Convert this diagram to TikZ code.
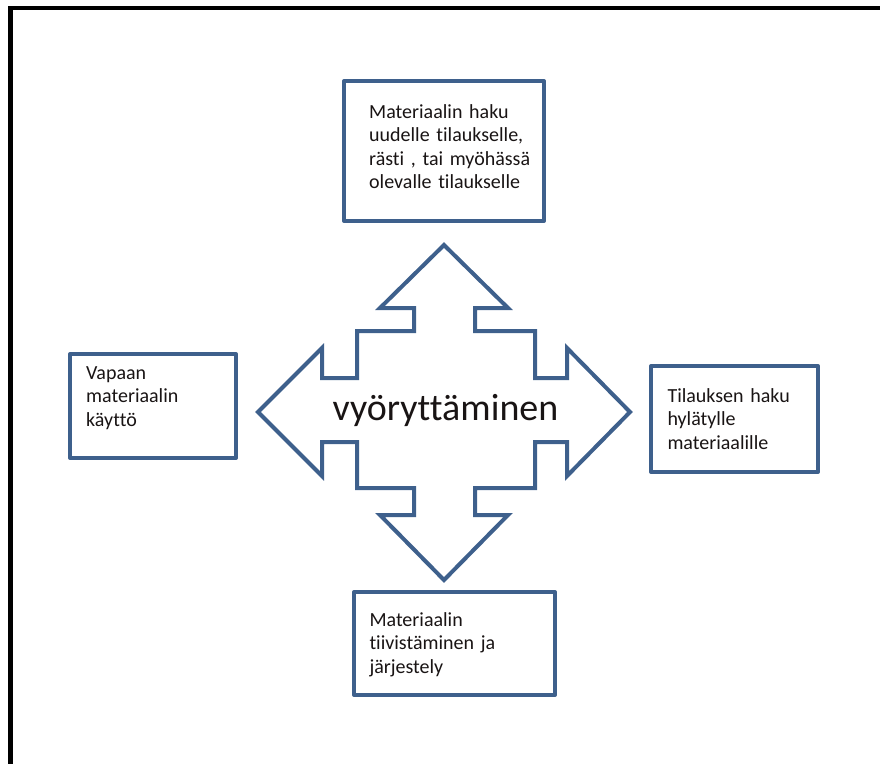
\documentclass[tikz,border=0pt]{standalone}
\usepackage{fontspec}
\setmainfont{Carlito}[Ligatures={NoCommon}]
\definecolor{edgeblue}{RGB}{62,96,140}
\definecolor{inktext}{RGB}{25,20,20}
\tikzset{
  infobox/.style={draw=edgeblue, line width=4pt, fill=white, inner sep=0pt, line join=round},
  infotext/.style={anchor=base west, inner sep=0pt, text width=#1, align=left,
    font=\fontsize{20}{23.5}\selectfont, text=inktext},
  quadarrow/.style={draw=edgeblue, line width=4pt, line join=miter, fill=white},
  hubtext/.style={anchor=base, inner sep=0pt, font=\fontsize{38}{40}\selectfont, text=inktext},
}
\begin{document}
\begin{tikzpicture}[x=1pt,y=-1pt]
\useasboundingbox (0,0) rectangle (880,764);

% page frame (open to the right and bottom)
\draw[line width=4.5pt] (880,8) -- (10.5,8) -- (10.5,764);

% four-way arrow with a central block
\draw[quadarrow]
  (444,245) -- (508,308) -- (475,308) -- (475,331) -- (535,331) -- (535,378)
  -- (567,378) -- (567,348) -- (630,412) -- (567,476) -- (567,442) -- (535,442)
  -- (535,488) -- (475,488) -- (475,515) -- (508,515) -- (444,580) -- (380,515)
  -- (414,515) -- (414,488) -- (357,488) -- (357,442) -- (322,442) -- (322,476)
  -- (258,412) -- (322,348) -- (322,378) -- (357,378) -- (357,331) -- (414,331)
  -- (414,308) -- (380,308) -- cycle;
\node[hubtext] (hub) at (445.5,420) {vyöryttäminen};

% surrounding boxes
\node[infobox, minimum width=200pt, minimum height=140pt] (topbox) at (444,151) {};
\node[infotext=175pt] (toptext) at (369,118.3)
  {Materiaalin haku\\uudelle tilaukselle,\\rästi , tai myöhässä\\olevalle tilaukselle};

\node[infobox, minimum width=166pt, minimum height=104pt] (leftbox) at (153,406) {};
\node[infotext=145pt] (lefttext) at (86,379.3)
  {Vapaan\\materiaalin\\käyttö};

\node[infobox, minimum width=167pt, minimum height=106pt] (rightbox) at (734.5,419) {};
\node[infotext=150pt] (righttext) at (667.3,402.3)
  {Tilauksen haku\\hylätylle\\materiaalille};

\node[infobox, minimum width=201pt, minimum height=103pt] (bottombox) at (454.5,643.5) {};
\node[infotext=180pt] (bottomtext) at (369.3,626)
  {Materiaalin\\tiivistäminen ja\\järjestely};
\end{tikzpicture}
\end{document}
